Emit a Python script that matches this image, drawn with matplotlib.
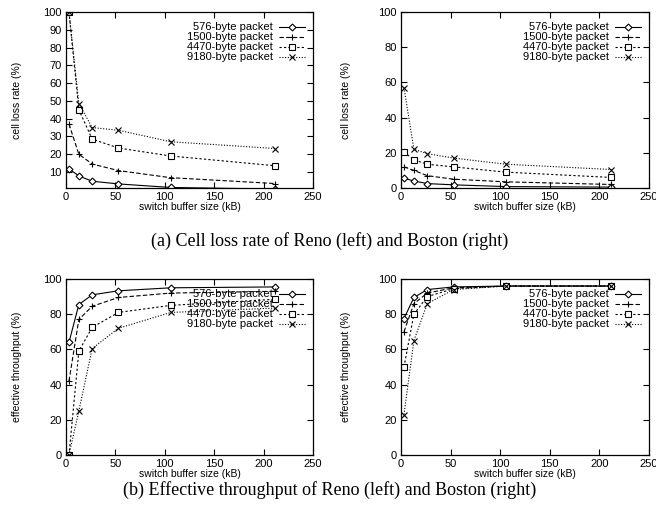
import numpy as np
import matplotlib
matplotlib.use("Agg")
import matplotlib.pyplot as plt

# buffer sizes (kB)
buf_kb = [3, 13, 26.5, 53, 106, 212]
labels = ["576-byte packet", "1500-byte packet", "4470-byte packet", "9180-byte packet"]

# cell loss rate (%)
reno_loss_576 = [11.8, 7.8, 4.8, 3.3, 1.3, 0.4]
reno_loss_1500 = [37, 20, 14.5, 10.8, 6.8, 3.5]
reno_loss_4470 = [100, 45, 28.5, 23.5, 19, 13.5]
reno_loss_9180 = [100, 48.5, 35, 33.5, 27, 23.2]

boston_loss_576 = [5.5, 4, 2.5, 1.8, 0.8, 0.5]
boston_loss_1500 = [12, 10, 7, 5, 3.5, 2]
boston_loss_4470 = [20.5, 16, 13.5, 12, 9, 6]
boston_loss_9180 = [57, 22, 19.5, 17, 13.5, 10.5]

# effective throughput (%)
reno_tput_576 = [64, 85.5, 91, 93.3, 95, 95.5]
reno_tput_1500 = [42, 77, 84.5, 89.5, 92, 93]
reno_tput_4470 = [0, 59, 72.5, 81, 85, 88.5]
reno_tput_9180 = [0, 25, 60.5, 72, 81, 83.5]

boston_tput_576 = [77.5, 89.5, 94, 95.5, 96, 96]
boston_tput_1500 = [70, 86, 92, 95, 96, 96]
boston_tput_4470 = [50, 80, 90, 94.5, 96, 96]
boston_tput_9180 = [23, 65, 86, 94, 96, 96]

styles = [
    dict(ls="-", marker="D", ms=3.5, mfc="white"),
    dict(ls=(0, (4, 2)), marker="+", ms=5),
    dict(ls=(0, (2, 2)), marker="s", ms=5, mfc="white"),
    dict(ls=(0, (1, 1.5)), marker="x", ms=4.5),
]

plt.rcParams["font.family"] = ["Liberation Sans", "DejaVu Sans"]
fig = plt.figure(figsize=(6.56, 5.14), dpi=100)

W, H = 656, 514


def make_ax(x0, x1, y0, y1):
    return fig.add_axes([x0 / W, 1 - y1 / H, (x1 - x0) / W, (y1 - y0) / H])


def draw(ax, series, ylabel, ylim, yticks, ylab_x):
    for s, lab, st in zip(series, labels, styles):
        ax.plot(buf_kb, s, color="black", lw=0.8, mew=0.8, label=lab, **st)
    ax.set_xlim(0, 250)
    ax.set_ylim(*ylim)
    ax.set_xticks([0, 50, 100, 150, 200, 250])
    ax.set_yticks(yticks)
    ax.tick_params(direction="in", length=4, width=0.8, top=True, right=True, labelsize=8, pad=3)
    for sp in ax.spines.values():
        sp.set_linewidth(0.9)
    ax.set_xlabel("switch buffer size (kB)", fontsize=7.5, labelpad=0)
    ax.set_ylabel(ylabel, fontsize=7.5)
    ax.yaxis.set_label_coords(ylab_x, 0.5)
    ax.legend(loc="upper right", bbox_to_anchor=(1.0, 0.985), frameon=False, markerfirst=False,
              fontsize=8, labelspacing=0.0, handlelength=2.4, handletextpad=0.5,
              borderaxespad=0.3)


ax1 = make_ax(66, 313, 12, 188)
draw(ax1, [reno_loss_576, reno_loss_1500, reno_loss_4470, reno_loss_9180],
     "cell loss rate (%)", (1, 100), range(10, 101, 10), -0.18)
ax2 = make_ax(401, 649, 12, 188)
draw(ax2, [boston_loss_576, boston_loss_1500, boston_loss_4470, boston_loss_9180],
     "cell loss rate (%)", (0, 100), range(0, 101, 20), -0.2)
ax3 = make_ax(66, 313, 279, 455)
draw(ax3, [reno_tput_576, reno_tput_1500, reno_tput_4470, reno_tput_9180],
     "effective throughput (%)", (0, 100), range(0, 101, 20), -0.18)
ax4 = make_ax(401, 649, 279, 455)
draw(ax4, [boston_tput_576, boston_tput_1500, boston_tput_4470, boston_tput_9180],
     "effective throughput (%)", (0, 100), range(0, 101, 20), -0.2)

cap = dict(ha="center", va="center", fontsize=13, family=["Liberation Serif", "DejaVu Serif"])
fig.text(330 / W, 1 - 241 / H, "(a) Cell loss rate of Reno (left) and Boston (right)", **cap)
fig.text(330 / W, 1 - 490 / H, "(b) Effective throughput of Reno (left) and Boston (right)", **cap)

fig.savefig("out.png", dpi=100)
